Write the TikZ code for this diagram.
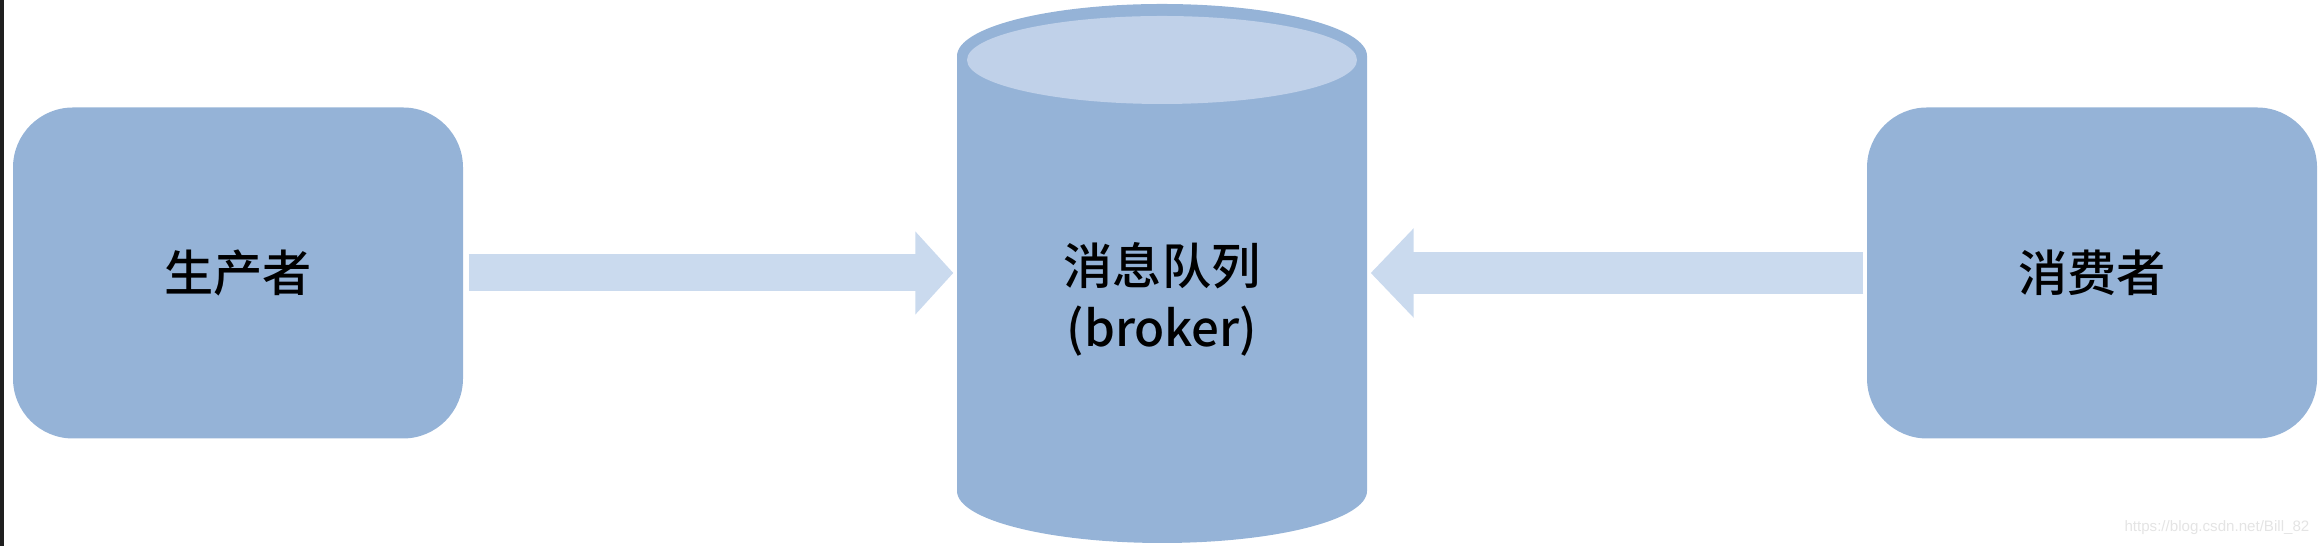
\documentclass[tikz,border=0pt]{standalone}
\usepackage{fontspec}
\setmainfont{Noto Sans CJK SC}[UprightFont=* Medium]
\newfontfamily\urlfont{Liberation Sans}
\usetikzlibrary{arrows.meta}
\definecolor{boxblue}{RGB}{149,179,215}
\definecolor{lidblue}{RGB}{192,209,233}
\definecolor{pipeblue}{RGB}{202,218,238}
\definecolor{markgray}{RGB}{228,228,228}
\tikzset{
    endbox/.style={fill=boxblue,rounded corners=6mm,minimum width=45mm,minimum height=33.1mm,font=\fontsize{14}{17.6}\selectfont},
    queuebox/.style={minimum width=41mm,align=center,inner sep=0pt,font=\fontsize{14}{17.6}\selectfont},
    pipe/.style={pipeblue,line width=3.7mm,-{Triangle[length=3.8mm,width=8.1mm]}},
}

\begin{document}
\begin{tikzpicture}[x=0.1mm,y=0.1mm]
    \useasboundingbox (0,0) rectangle (2320,546);
    \fill[black!88] (0,0) rectangle (4,546);
    \foreach \myname/\myx/\mytext in {producer/238/生产者,consumer/2092/消费者}{
        \node[endbox] (\myname) at (\myx,273) {\mytext};
    }
    \fill[boxblue] (957,490) -- (957,55) arc[start angle=180,end angle=360,x radius=20.5mm,y radius=5.2mm]
        -- (1367,490) arc[start angle=0,end angle=180,x radius=20.5mm,y radius=5.2mm] -- cycle;
    \fill[lidblue] (1162,486) ellipse[x radius=19.5mm,y radius=4.4mm];
    \node[queuebox] (broker) at (1162,247) {消息队列\\(broker)};
    \draw[pipe,shorten <=0.5mm,shorten >=0.3mm] (producer.east) -- (producer.east -| broker.west);
    \draw[pipe,line width=4.2mm,-{Triangle[length=4.3mm,width=8.7mm]},shorten <=0.3mm,shorten >=0.3mm] (consumer.west) -- (consumer.west -| broker.east);
    \node[font=\urlfont\fontsize{4.3}{5}\selectfont,text=markgray,anchor=east,inner sep=0pt] (mark) at (2310,18) {https://blog.csdn.net/Bill\_82};
\end{tikzpicture}
\end{document}
